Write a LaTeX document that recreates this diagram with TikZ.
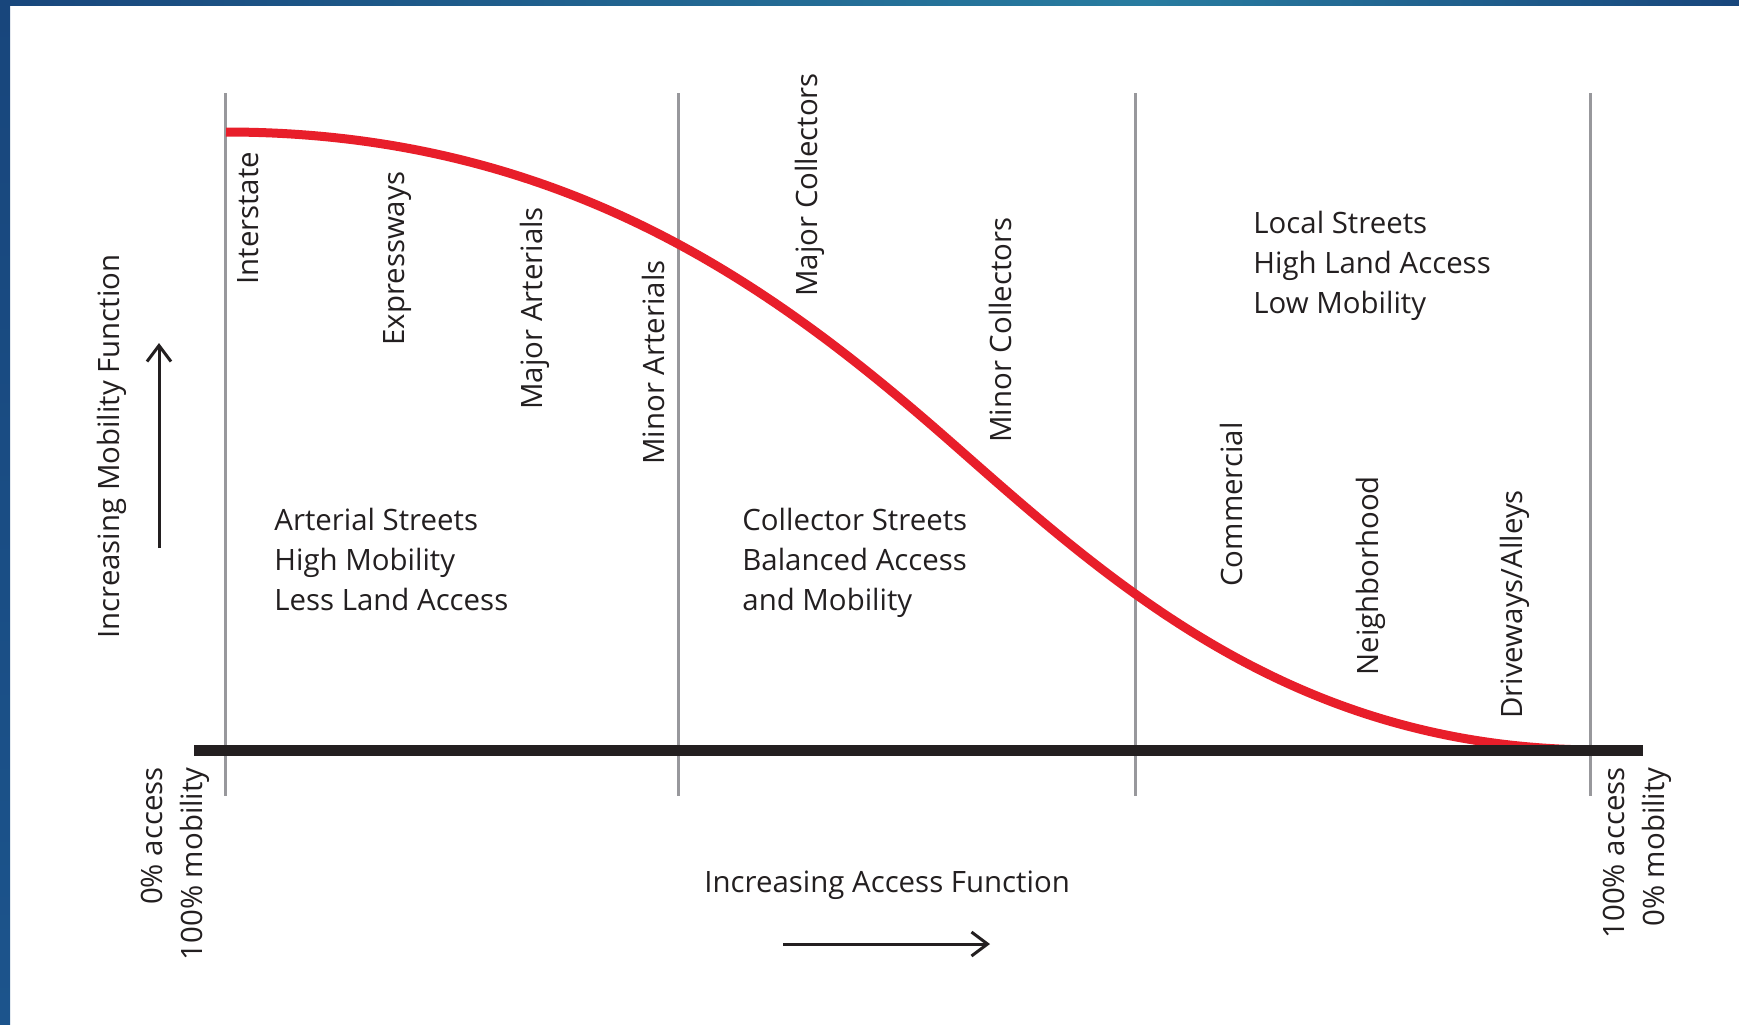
\documentclass[tikz,border=0pt]{standalone}
\usepackage{fontspec}
\setmainfont{Open Sans}
\usetikzlibrary{arrows.meta}
\definecolor{redc}{RGB}{232,30,42}
\definecolor{grayc}{RGB}{152,152,156}
\definecolor{inkc}{RGB}{35,31,32}
\definecolor{navyc}{RGB}{24,70,124}
\definecolor{navyd}{RGB}{28,84,140}
\definecolor{tealc}{RGB}{40,124,160}
\begin{document}
\begin{tikzpicture}[x=0.5pt,y=-0.5pt,
  lbl/.style={font=\fontsize{14.7}{20}\selectfont, text=inkc, inner sep=0pt},
  vlbl/.style={lbl, rotate=90, anchor=west},
  blk/.style={lbl, align=left, anchor=north west},
  grid/.style={draw=grayc, line width=1.5pt},
  axis/.style={draw=inkc, line width=5.5pt},
  curve/.style={draw=redc, line width=4.5pt},
  arr/.style={draw=inkc, line width=1.5pt, -{Straight Barb[length=8pt,width=12pt]}}]
\useasboundingbox (0,0) rectangle (1739,1024);
\fill[white] (0,0) rectangle (1739,1024);
% frame
\shade[top color=navyc, bottom color=navyd] (0,0) rectangle (10,1024);
\shade[left color=navyc, right color=tealc] (0,0) rectangle (1150,5);
\shade[left color=tealc, right color=navyc] (1150,0) rectangle (1739,5);
% grid lines
\foreach \i/\x in {1/225,2/678,3/1135,4/1590}{
  \coordinate (g\i t) at (\x,93);
  \coordinate (g\i b) at (\x,796);
  \draw[grid] (g\i t) -- (g\i b);
}
% curve
\coordinate (c0) at (226,132);
\coordinate (cm) at (960,450);
\coordinate (c1) at (1600,750);
\draw[curve] (c0) .. controls (576,132) and (790,300) .. (cm)
                  .. controls (1120,591) and (1300,750) .. (c1);
% axis
\coordinate (axL) at (194,750);
\coordinate (axR) at (1643,750);
\draw[axis] (axL) -- (axR);
% arrows
\coordinate (ma0) at (159,548);
\coordinate (ma1) at (159,343);
\draw[arr] (ma0) -- (ma1);
\coordinate (aa0) at (783,944);
\coordinate (aa1) at (990,944);
\draw[arr] (aa0) -- (aa1);
% vertical labels
\node[vlbl] (interstate) at (248,285) {Interstate};
\node[vlbl] (expressways) at (398,346) {Expressways};
\node[vlbl] (majart) at (535,410) {Major Arterials};
\node[vlbl] (minart) at (653,465) {Minor Arterials};
\node[vlbl] (majcol) at (810,297) {Major Collectors};
\node[vlbl] (mincol) at (1000,443) {Minor Collectors};
\node[vlbl] (commercial) at (1231,587) {Commercial};
\node[vlbl] (neighborhood) at (1371,676) {Neighborhood};
\node[vlbl] (driveways) at (1515,719) {Driveways/Alleys};
\node[vlbl] (mobility) at (112,639) {Increasing Mobility Function};
% axis end labels
\node[lbl, rotate=90, anchor=east, align=right] (leftend) at (175,767) {0\% access\\100\% mobility};
\node[lbl, rotate=90, anchor=east, align=right] (rightend) at (1637,767) {100\% access\\0\% mobility};
% access label
\node[lbl, anchor=base west] (access) at (704,892) {Increasing Access Function};
% blocks
\node[blk] (arterial) at (274,508) {Arterial Streets\\High Mobility\\Less Land Access};
\node[blk] (collector) at (742,508) {Collector Streets\\Balanced Access\\and Mobility};
\node[blk] (local) at (1253,211) {Local Streets\\High Land Access\\Low Mobility};
\end{tikzpicture}
\end{document}
